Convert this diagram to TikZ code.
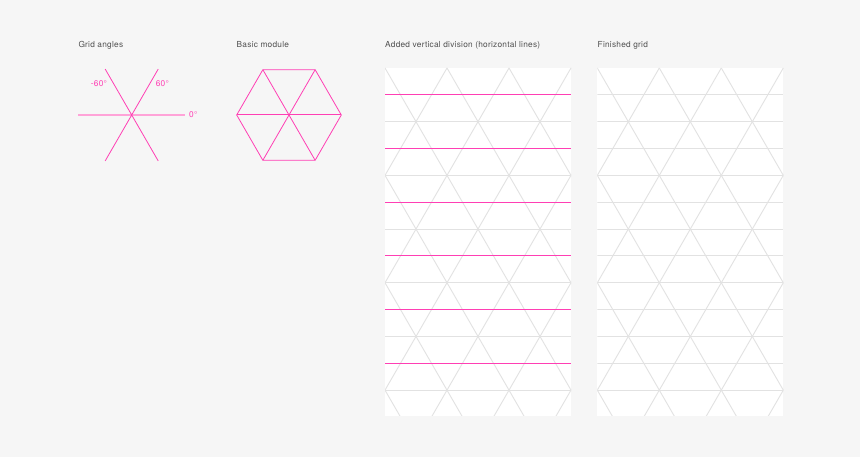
\documentclass[tikz,border=0pt]{standalone}
\usepackage{fontspec}
\setmainfont{TeX Gyre Heros}[LetterSpace=3]
\definecolor{bg}{HTML}{F6F6F6}
\definecolor{hotpink}{HTML}{FF3FB4}
\definecolor{palepink}{HTML}{FFA3D8}
\definecolor{gridgray}{HTML}{E2E2E2}
\definecolor{txt}{HTML}{505050}
\newcommand\trigrid[2]{%
  \begin{scope}[shift={(#1,0)}]
    \fill[white] (0,41) rectangle (186,389);
    \begin{scope}
      \clip (0,41) rectangle (186,389);
      \foreach \i in {-4,...,3} \draw[diagline] (62*\i,389) -- ++(217,-375.83);
      \foreach \i in {0,...,7} \draw[diagline] (62*\i,389) -- ++(-217,-375.83);
      \foreach \k in {1,...,6} \draw[diagline] (0,389-53.69*\k) -- ++(186,0);
      \foreach \k in {1,...,6} \draw[#2] (0,415.85-53.69*\k) -- ++(186,0);
    \end{scope}
  \end{scope}}
\begin{document}
\begin{tikzpicture}[x=1pt,y=1pt,
  title/.style={anchor=base west, inner sep=0pt, text=txt, font=\fontsize{8.3}{10}\selectfont},
  anglelbl/.style={inner sep=0pt, text=hotpink, font=\fontsize{8.3}{10}\selectfont},
  diagline/.style={draw=gridgray, line width=0.9pt},
  midgray/.style={draw=gridgray, line width=0.9pt},
  midpink/.style={draw=hotpink, line width=1pt},
  pinkline/.style={draw=hotpink, line width=0.8pt}]
\fill[bg] (0,0) rectangle (860,457);
\useasboundingbox (0,0) rectangle (860,457);
% titles
\node[title] (t1) at (78.3,409.3) {Grid angles};
\node[title] (t2) at (236.5,409.3) {Basic module};
\node[title] (t3) at (385,409.3) {Added vertical division (horizontal lines)};
\node[title] (t4) at (597.5,409.3) {Finished grid};
% grid angles
\coordinate (ac) at (131.7,342);
\draw[draw=palepink, line width=1.4pt] (78.3,342) -- (185,342);
\draw[pinkline] (ac) -- ++(60:53) (ac) -- ++(120:53) (ac) -- ++(240:53) (ac) -- ++(300:53);
\node[anglelbl] (m60) at (99,373.7) {-60°};
\node[anglelbl] (p60) at (162.3,373.7) {60°};
\node[anglelbl] (z0) at (193.3,342) {0°};
% basic module
\coordinate (hc) at (289,342);
\draw[pinkline] (hc) ++(0:52.3) -- ++(120:52.3) -- ++(180:52.3) -- ++(240:52.3) -- ++(300:52.3) -- ++(0:52.3) -- cycle;
\draw[pinkline] (hc) ++(60:52.3) -- ++(240:104.6);
\draw[pinkline] (hc) ++(120:52.3) -- ++(300:104.6);
\draw[draw=hotpink, line width=1pt] (hc) ++(180:52.3) -- ++(0:104.6);
% panels
\trigrid{385}{midpink}
\trigrid{597.3}{midgray}
\end{tikzpicture}
\end{document}
